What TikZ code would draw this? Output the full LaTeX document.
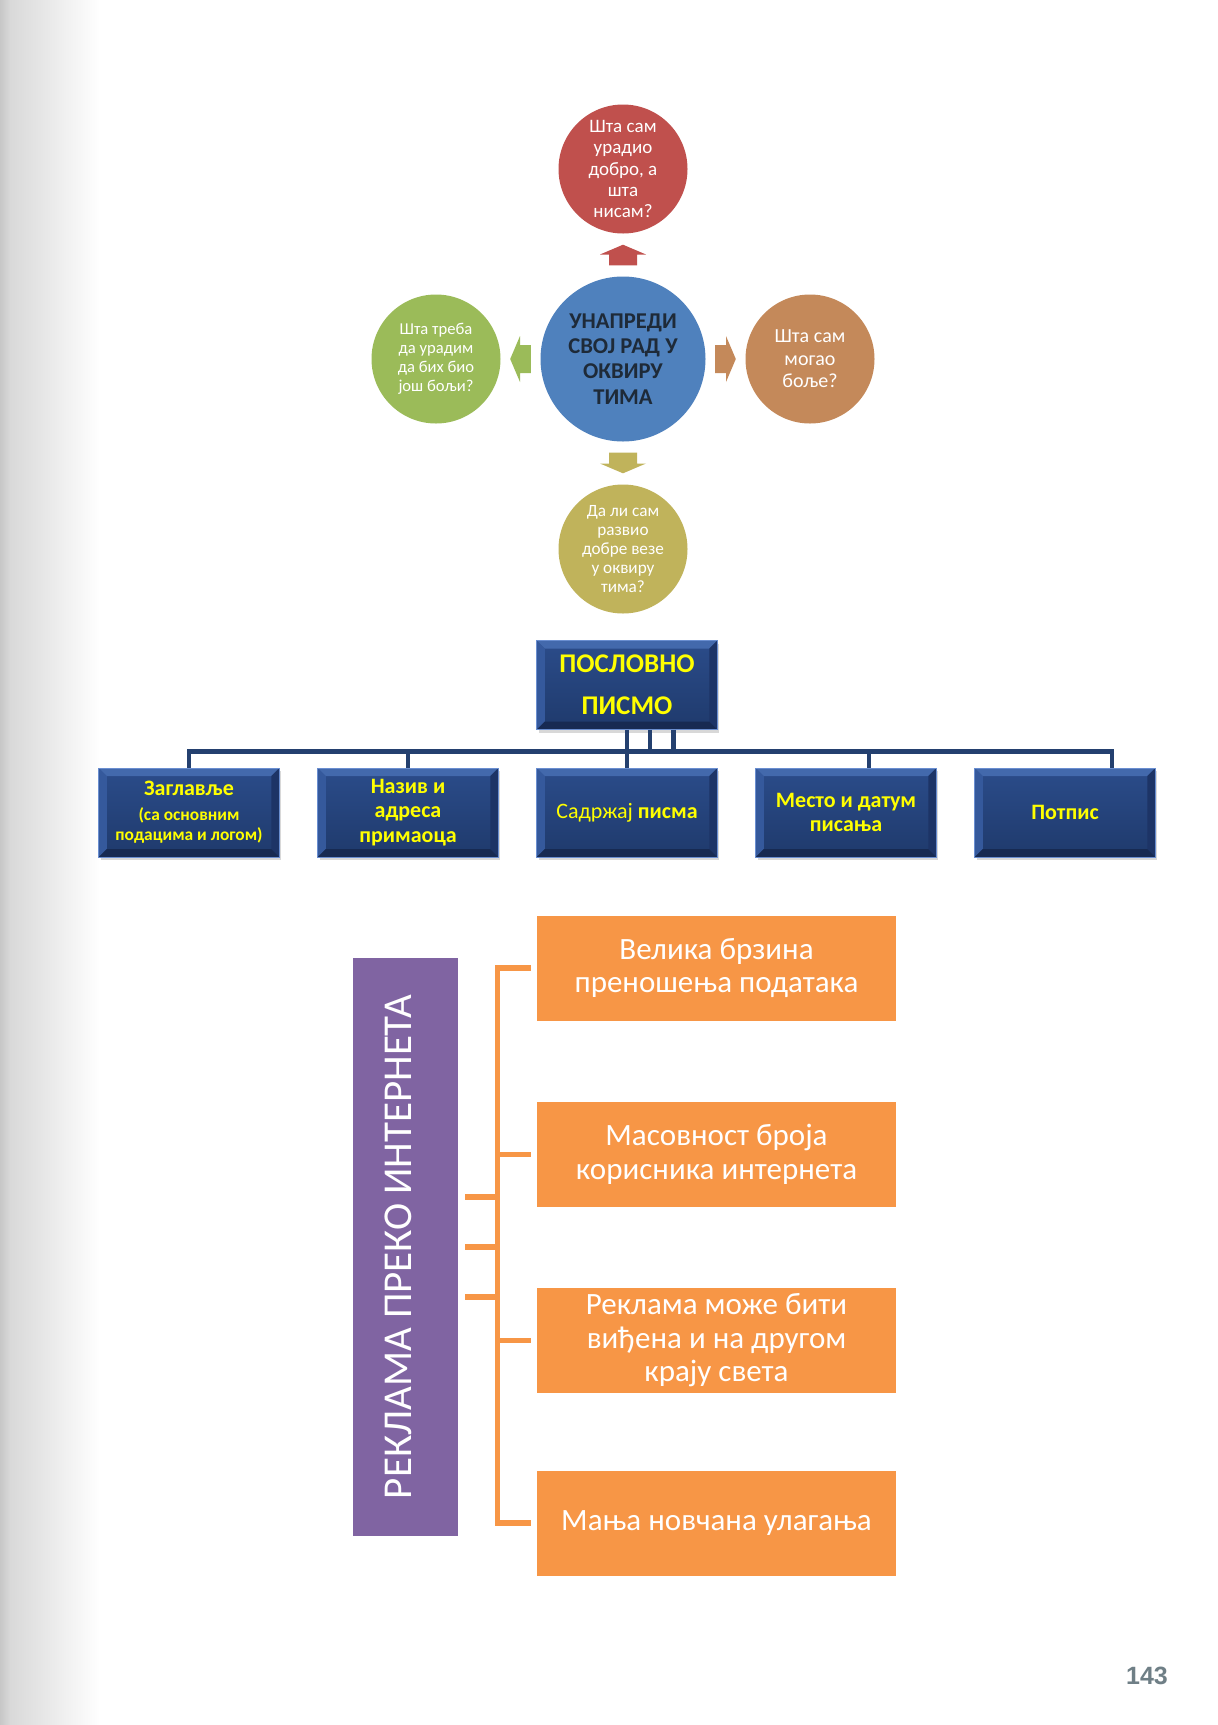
\documentclass[tikz,border=0pt]{standalone}
\usepackage{fontspec}
\usepackage{graphicx}
\setmainfont{Carlito}
\newfontfamily\pagefont{Liberation Sans}
\usepackage{tikz}
\usetikzlibrary{positioning,shadows,calc}

\definecolor{redc}{HTML}{C0504D}
\definecolor{bluec}{HTML}{4F81BD}
\definecolor{greenc}{HTML}{9BBB59}
\definecolor{brownc}{HTML}{C4895A}
\definecolor{olivec}{HTML}{C0B35B}
\definecolor{coretext}{HTML}{1E2A38}
\definecolor{navytop}{HTML}{2B4C8A}
\definecolor{navybot}{HTML}{1F3A6C}
\definecolor{bevtop}{HTML}{4369AC}
\definecolor{bevleft}{HTML}{35599C}
\definecolor{bevright}{HTML}{1D3466}
\definecolor{bevbot}{HTML}{172A52}
\definecolor{rimc}{HTML}{6A8ED0}
\definecolor{connc}{HTML}{24406F}
\definecolor{boxtext}{HTML}{FFFF00}
\definecolor{orangec}{HTML}{F79646}
\definecolor{purplec}{HTML}{8064A2}
\definecolor{pagegray}{HTML}{6F7F86}

\begin{document}
\begin{tikzpicture}[
    x=0.5pt, y=-0.5pt,
    on grid,
    every node/.style={inner sep=0pt, align=center},
    bubble/.style={circle, minimum size=64.5pt, text=white},
    core/.style={circle, fill=bluec, minimum size=82.5pt, text=coretext,
        font=\fontsize{11.3}{12.65}\selectfont\bfseries},
    bevelbox/.style={rectangle, top color=navytop, bottom color=navybot,
        draw=rimc, line width=0.4pt,
        minimum width=90.25pt, minimum height=44.5pt, text=boxtext,
        font=\fontsize{11}{12.4}\selectfont\bfseries,
        drop shadow={shadow xshift=1pt, shadow yshift=-1.5pt, opacity=0.3},
        path picture={
            \coordinate (nw) at (path picture bounding box.north west);
            \coordinate (ne) at (path picture bounding box.north east);
            \coordinate (sw) at (path picture bounding box.south west);
            \coordinate (se) at (path picture bounding box.south east);
            \fill[bevtop] (nw) -- (ne) -- ([shift={(-4pt,-4pt)}]ne) -- ([shift={(4pt,-4pt)}]nw) -- cycle;
            \fill[bevleft] (nw) -- (sw) -- ([shift={(4pt,4pt)}]sw) -- ([shift={(4pt,-4pt)}]nw) -- cycle;
            \fill[bevright] (ne) -- (se) -- ([shift={(-4pt,4pt)}]se) -- ([shift={(-4pt,-4pt)}]ne) -- cycle;
            \fill[bevbot] (sw) -- (se) -- ([shift={(-4pt,4pt)}]se) -- ([shift={(4pt,4pt)}]sw) -- cycle;
        }},
    conn/.style={draw=connc, line width=2.3pt},
    adbox/.style={rectangle, fill=orangec, minimum width=179.5pt, minimum height=52.5pt,
        text=white, font=\fontsize{15.5}{16.75}\selectfont},
    brace/.style={draw=orangec, line width=2.6pt},
    blockarrow/.pic={
        \fill[pic actions] (-10.3,-14) -- (0.5,-14) -- (0.5,-23) -- (10.3,0)
            -- (0.5,23) -- (0.5,14) -- (-10.3,14) -- cycle;
    }
]
    % page
    \useasboundingbox (0,0) rectangle (1217,1725);
    \fill[white] (0,0) rectangle (1217,1725);
    \shade[left color=black!22, right color=black!15] (0,0) rectangle (10,1725);
    \shade[left color=black!15, right color=white] (10,0) rectangle (100,1725);

    % team cycle
    \node[core] (core) at (623,359) {УНАПРЕДИ\\СВОЈ РАД У\\ОКВИРУ\\ТИМА};
    \node[bubble, fill=redc, above=95pt of core,
        font=\fontsize{9.5}{10.7}\selectfont] (q1) {Шта сам\\урадио\\добро, а\\шта\\нисам?};
    \node[bubble, fill=brownc, right=93.5pt of core,
        font=\fontsize{10}{11.3}\selectfont] (q2) {Шта сам\\могао\\боље?};
    \node[bubble, fill=olivec, below=95pt of core,
        font=\fontsize{8.6}{9.6}\selectfont] (q3) {Да ли сам\\развио\\добре везе\\у оквиру\\тима?};
    \node[bubble, fill=greenc, left=93.5pt of core,
        font=\fontsize{8.3}{9.5}\selectfont] (q4) {Шта треба\\да урадим\\да бих био\\још бољи?};

    \pic[fill=redc, rotate=90] at ($(core.north)!0.5!(q1.south)$) {blockarrow};
    \pic[fill=brownc] at ($(core.east)!0.5!(q2.west)$) {blockarrow};
    \pic[fill=olivec, rotate=-90] at ($(core.south)!0.5!(q3.north)$) {blockarrow};
    \pic[fill=greenc, rotate=180] at ($(core.west)!0.5!(q4.east)$) {blockarrow};

    % business letter
    \node[bevelbox, font=\fontsize{13.5}{21.2}\selectfont\bfseries] (letter) at (627,685) {ПОСЛОВНО\\ПИСМО};
    \node[bevelbox, below=63.75pt of letter] (c3) {\mdseries Садржај \bfseries писма};
    \node[bevelbox, left=109.5pt of c3] (c2) {Назив и\\адреса\\примаоца};
    \node[bevelbox, left=109.5pt of c2] (c1) {Заглавље\\[0pt]
        {\fontsize{8.7}{10}\selectfont (са основним}\\[-2.2pt]{\fontsize{8.7}{9.6}\selectfont подацима и логом)}};
    \node[bevelbox, right=109.5pt of c3] (c4) {Место и датум\\писања};
    \node[bevelbox, right=109.5pt of c4] (c5) {Потпис};

    \coordinate (hub) at ([yshift=-10.7pt]letter.south);
    \draw[conn] (c1.north) |- (hub) -| ([xshift=23.5pt]c5.north);
    \draw[conn] (c2.north) -- (c2.north |- hub);
    \draw[conn] (letter.south) -- (c3.north);
    \draw[conn] ([xshift=11.5pt]c4.north) -- ++(0,8.5pt);
    \draw[conn] ([xshift=11.5pt]letter.south) -- ++(0,-10.7pt);
    \draw[conn] ([xshift=23.25pt]letter.south) -- ++(0,-10.7pt);

    % internet advertising
    \node[rectangle, fill=purplec, minimum width=52.5pt, minimum height=289pt,
        text=white, font=\fontsize{20.5}{24}\selectfont] (ad) at (405.5,1247)
        {\rotatebox{90}{\rule[-7.5pt]{0pt}{0pt}РЕКЛАМА ПРЕКО ИНТЕРНЕТА}};
    \node[adbox] (o1) at (716.5,968) {Велика брзина\\преношења података};
    \node[adbox, below=93.25pt of o1] (o2) {Масовност броја\\корисника интернета};
    \node[adbox, below=93pt of o2] (o3) {Реклама може бити\\виђена и на другом\\крају света};
    \node[adbox, below=91.25pt of o3] (o4) {Мања новчана улагања};

    \coordinate (spine) at ([xshift=-19.5pt]o1.west);
    \draw[brace] ([xshift=-3pt]o1.west) -- (spine) -- (spine |- o4.west) -- ([xshift=-3pt]o4.west);
    \draw[brace] ([xshift=-3pt]o2.west) -- (spine |- o2.west);
    \draw[brace] ([xshift=-3pt]o3.west) -- (spine |- o3.west);
    \draw[brace] ([xshift=3.5pt]ad.east) -- (spine |- ad.east);
    \draw[brace] ([shift={(3.5pt,25pt)}]ad.east) -- ++(16.5pt,0);
    \draw[brace] ([shift={(3.5pt,-25pt)}]ad.east) -- ++(16.5pt,0);

    % page number
    \node[text=pagegray, font=\pagefont\fontsize{12.5}{14}\selectfont\bfseries] (pagenum) at (1147,1676) {143};
\end{tikzpicture}
\end{document}
